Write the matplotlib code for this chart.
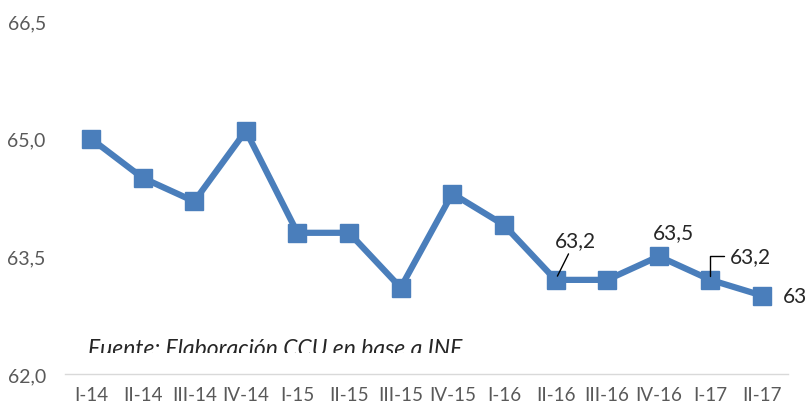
import matplotlib.pyplot as plt
from matplotlib.patches import Rectangle

trimestres = ["I-14", "II-14", "III-14", "IV-14", "I-15", "II-15", "III-15",
              "IV-15", "I-16", "II-16", "III-16", "IV-16", "I-17", "II-17"]
valores = [65.0, 64.5, 64.2, 65.1, 63.8, 63.8, 63.1,
           64.3, 63.9, 63.2, 63.2, 63.5, 63.2, 63.0]
yticks = [62.0, 63.5, 65.0, 66.5]
fuente = "Fuente: Elaboración CCU en base a INE"

azul = "#4a7ebb"
gris = "#595959"
plt.rcParams['font.family'] = ['Lato', 'DejaVu Sans']

fig = plt.figure(figsize=(8.08, 4.10), dpi=100)
ax = fig.add_axes([65.2/808, 35/410, 722.6/808, 353/410])

x = range(len(trimestres))
ax.plot(x, valores, color=azul, lw=4.5, marker='s', markersize=12.5,
        markerfacecolor=azul, markeredgecolor=azul, solid_joinstyle='miter')

ax.set_xlim(-0.5, len(trimestres) - 0.5)
ax.set_ylim(yticks[0], yticks[-1])
ax.set_yticks(yticks)
ax.set_yticklabels([f"{v:.1f}".replace(".", ",") for v in yticks])
ax.set_xticks(list(x))
ax.set_xticklabels(trimestres)
ax.tick_params(axis='y', length=0, labelsize=14, labelcolor=gris, pad=14)
ax.tick_params(axis='x', length=0, labelsize=13.5, labelcolor=gris, pad=9)
for s in ['top', 'right', 'left']:
    ax.spines[s].set_visible(False)
ax.spines['bottom'].set_color('#d9d9d9')
ax.spines['bottom'].set_linewidth(1)

lbl = dict(fontsize=15, color='#262626', textcoords='offset pixels',
           ha='center', va='center')
# etiquetas con linea guia
ax.annotate("63,2", xy=(9, valores[9]), xytext=(20, 40),
            arrowprops=dict(arrowstyle='-', color='black', lw=1,
                            shrinkA=1, shrinkB=3), **lbl)
ax.annotate("63,5", xy=(11, valores[11]), xytext=(15, 24), **lbl)
ax.annotate("63,2", xy=(12, valores[12]), xytext=(40, 24),
            arrowprops=dict(arrowstyle='-', color='black', lw=1,
                            shrinkA=2, shrinkB=3,
                            connectionstyle="angle,angleA=0,angleB=90,rad=0"),
            **lbl)
ax.annotate("63", xy=(13, valores[13]), xytext=(21, 0),
            fontsize=15, color='#262626', textcoords='offset pixels',
            ha='left', va='center')

t = fig.text(88/808, (410-356)/410, fuente, fontsize=16.5, style='italic',
             color='#262626', ha='left', va='baseline')
t.set_clip_path(Rectangle((0, (410-354)/410), 1, 1, transform=fig.transFigure))

fig.savefig("out.png", dpi=100)
